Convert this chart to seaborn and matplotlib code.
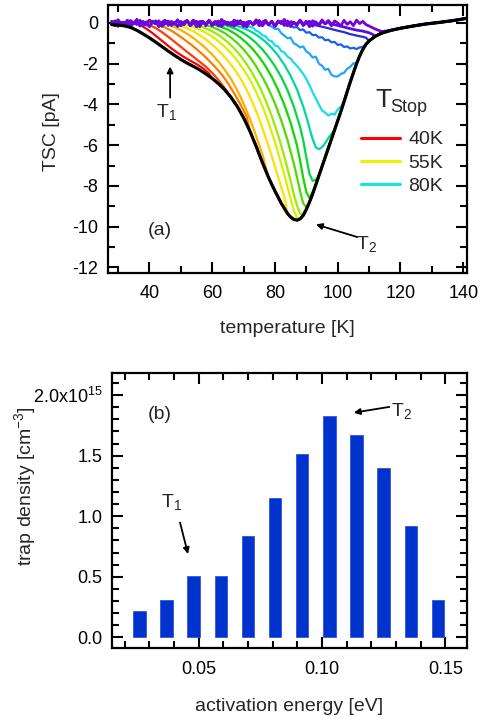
import numpy as np
import matplotlib
matplotlib.use("Agg")
import matplotlib.pyplot as plt
from matplotlib.ticker import MultipleLocator, FixedLocator, FixedFormatter
from matplotlib.lines import Line2D
import seaborn as sns

sns.set_theme(style="ticks")
plt.rcParams["font.family"] = ["Liberation Sans", "DejaVu Sans"]
plt.rcParams["mathtext.fontset"] = "custom"
plt.rcParams["mathtext.rm"] = "Liberation Sans"
plt.rcParams["mathtext.it"] = "Liberation Sans:italic"
plt.rcParams["mathtext.bf"] = "Liberation Sans:bold"
plt.rcParams["axes.unicode_minus"] = False

# ---------------- (a) thermally stimulated current ----------------
# full TSC run (black envelope)
FULL_T = [28, 30, 32, 34, 36, 38, 40, 42, 44, 46, 48, 50, 52, 54, 56, 58, 60, 62, 64, 66,
          68, 70, 72, 74, 76, 78, 80, 82, 84, 85, 86, 87, 88, 89, 90, 91, 92, 93, 94, 95,
          96, 97, 98, 99, 100, 101, 102, 103, 104, 105, 106, 107, 108, 109, 110, 112, 114,
          117, 120, 124, 128, 132, 136, 139, 141]
FULL_I = [-0.08, -0.1, -0.14, -0.22, -0.36, -0.54, -0.73, -0.94, -1.16, -1.38, -1.59, -1.79,
          -1.97, -2.13, -2.3, -2.5, -2.72, -2.98, -3.28, -3.65, -4.1, -4.65, -5.3, -6.05,
          -6.85, -7.6, -8.25, -8.85, -9.35, -9.53, -9.64, -9.68, -9.62, -9.45, -9.15, -8.8,
          -8.4, -7.95, -7.5, -7.05, -6.6, -6.15, -5.7, -5.25, -4.8, -4.35, -3.87, -3.38,
          -2.9, -2.45, -2.0, -1.62, -1.3, -1.05, -0.88, -0.65, -0.5, -0.36, -0.26, -0.15,
          -0.05, 0.02, 0.1, 0.17, 0.23]

# baseline current before each partial run starts to discharge (1 K steps from 28 K)
BASE_T = list(range(28, 113))
BASE_A = [0.08, -0.13, 0.15, -0.06, 0.04, -0.18, 0.11, -0.03, 0.17, -0.15, 0.07, -0.1, 0.14,
          -0.01, 0.1, -0.17, 0.03, 0.13, -0.11, 0.07, -0.06, 0.15, -0.14, 0.04, 0.11, -0.08,
          0.14, -0.18, 0.06, 0.08, -0.13, 0.13, -0.04, 0.07, -0.15, 0.17, -0.03, 0.04, -0.11,
          0.14, -0.07, 0.11, -0.17, 0.03, 0.08, -0.06, 0.15, -0.13, 0.04, 0.13, -0.1, 0.07,
          -0.15, 0.1, -0.03, 0.17, -0.14, 0.06, 0.01, -0.11, 0.14, -0.06, 0.08, -0.18, 0.11,
          0.03, -0.1, 0.15, -0.04, 0.07, -0.14, 0.1, 0.0, -0.15, 0.13, -0.07, 0.06, -0.13,
          0.14, -0.03, 0.08, -0.17, 0.04, 0.11, -0.08]
BASE_B = [-0.05, 0.1, -0.16, 0.04, -0.09, 0.13, -0.2, 0.03, -0.07, 0.12, -0.13, 0.05, -0.18,
          0.08, -0.04, 0.1, -0.16, -0.01, 0.09, -0.12, 0.04, -0.17, 0.07, -0.08, 0.13, -0.14,
          0.01, 0.08, -0.18, 0.05, -0.03, 0.12, -0.13, 0.0, 0.09, -0.17, 0.07, -0.1, 0.03,
          -0.16, 0.1, -0.05, 0.04, -0.2, 0.08, -0.09, 0.01, 0.12, -0.14, 0.05, -0.08, 0.09,
          -0.17, 0.03, 0.07, -0.12, 0.1, -0.18, 0.04, -0.07, 0.13, -0.13, 0.0, 0.08, -0.16,
          0.05, -0.1, 0.09, -0.04, 0.12, -0.18, 0.03, -0.08, 0.1, -0.14, 0.07, -0.03, 0.09,
          -0.17, 0.01, 0.08, -0.12, 0.05, -0.16, 0.04]

# partial runs: own discharge segment, after which each run follows the full curve
RUN01_T = [37, 39, 41, 43, 45, 47, 49, 51, 53, 55, 57, 59]
RUN01_I = [-0.1, -0.28, -0.5, -0.75, -1.0, -1.25, -1.47, -1.67, -1.85, -2.02, -2.22, -2.48]
RUN02_T = [40, 42, 44, 46, 48, 50, 52, 54, 56, 58, 60, 62, 64]
RUN02_I = [-0.1, -0.25, -0.45, -0.68, -0.92, -1.17, -1.42, -1.66, -1.9, -2.15, -2.45, -2.8, -3.2]
RUN03_T = [43, 45, 47, 49, 51, 53, 55, 57, 59, 61, 63, 65, 67, 69, 71]
RUN03_I = [-0.1, -0.22, -0.38, -0.58, -0.8, -1.03, -1.28, -1.55, -1.85, -2.17, -2.52, -2.95,
           -3.45, -4.0, -4.6]
RUN04_T = [46, 48, 50, 52, 54, 56, 58, 60, 62, 64, 66, 68, 70, 72, 74, 76]
RUN04_I = [-0.1, -0.2, -0.35, -0.53, -0.74, -0.98, -1.25, -1.55, -1.9, -2.3, -2.75, -3.3,
           -3.95, -4.7, -5.55, -6.45]
RUN05_T = [49, 51, 53, 55, 57, 59, 61, 63, 65, 67, 69, 71, 73, 75, 77, 79, 81, 83]
RUN05_I = [-0.1, -0.2, -0.33, -0.5, -0.7, -0.93, -1.2, -1.5, -1.85, -2.25, -2.72, -3.28,
           -3.95, -4.72, -5.6, -6.55, -7.55, -8.55]
RUN06_T = [52, 54, 56, 58, 60, 62, 64, 66, 68, 70, 72, 74, 76, 78, 80, 82, 84, 85, 86, 87]
RUN06_I = [-0.1, -0.2, -0.32, -0.48, -0.67, -0.9, -1.17, -1.48, -1.85, -2.28, -2.78, -3.38,
           -4.08, -4.9, -5.85, -6.9, -8.05, -8.65, -9.2, -9.55]
RUN07_T = [55, 57, 59, 61, 63, 65, 67, 69, 71, 73, 75, 77, 79, 81, 83, 85, 86, 87, 88, 89]
RUN07_I = [-0.1, -0.2, -0.33, -0.5, -0.7, -0.95, -1.25, -1.6, -2.02, -2.52, -3.1, -3.78,
           -4.58, -5.5, -6.55, -7.75, -8.4, -8.95, -9.35, -9.4]
RUN08_T = [58, 60, 62, 64, 66, 68, 70, 72, 74, 76, 78, 80, 82, 84, 86, 87, 88, 89, 90]
RUN08_I = [-0.1, -0.2, -0.33, -0.5, -0.72, -0.98, -1.3, -1.68, -2.12, -2.65, -3.25, -3.95,
           -4.78, -5.75, -6.9, -7.55, -8.25, -8.85, -9.05]
RUN09_T = [61, 63, 65, 67, 69, 71, 73, 75, 77, 79, 81, 83, 85, 87, 88, 89, 90, 91, 92]
RUN09_I = [-0.1, -0.2, -0.33, -0.5, -0.72, -0.98, -1.3, -1.68, -2.12, -2.65, -3.28, -4.02,
           -4.9, -6.0, -6.75, -7.6, -8.3, -8.6, -8.3]
RUN10_T = [64, 66, 68, 70, 72, 74, 76, 78, 80, 82, 84, 86, 88, 89, 90, 91, 92, 93]
RUN10_I = [-0.1, -0.2, -0.33, -0.5, -0.72, -0.98, -1.3, -1.68, -2.12, -2.65, -3.3, -4.1,
           -5.1, -5.75, -6.6, -7.4, -7.75, -7.7]
RUN11_T = [67, 69, 71, 73, 75, 77, 79, 81, 83, 85, 87, 89, 90, 91, 92, 93, 94, 95, 96, 97, 98]
RUN11_I = [-0.1, -0.2, -0.32, -0.48, -0.68, -0.93, -1.23, -1.6, -2.05, -2.6, -3.25, -4.1,
           -4.6, -5.15, -5.7, -6.1, -6.2, -6.1, -5.9, -5.65, -5.45]
RUN12_T = [71, 72, 73, 74, 75, 76, 77, 78, 79, 80, 81, 82, 83, 84, 85, 86, 87, 88, 89, 90,
           91, 92, 93, 94, 95, 96, 97, 98, 99, 100, 101]
RUN12_I = [-0.1, -0.2, -0.22, -0.38, -0.45, -0.6, -0.65, -0.85, -0.9, -1.1, -1.15, -1.38,
           -1.45, -1.65, -1.75, -1.95, -2.1, -2.3, -2.5, -2.75, -3.05, -3.4, -3.7, -4.0,
           -4.3, -4.4, -4.55, -4.45, -4.5, -4.25, -4.1]
RUN13_T = [78, 79, 80, 81, 82, 83, 84, 85, 86, 87, 88, 89, 90, 91, 92, 93, 94, 95, 96, 97,
           98, 99, 100, 101, 102, 103, 104, 105]
RUN13_I = [-0.1, -0.18, -0.3, -0.28, -0.5, -0.62, -0.75, -0.72, -1.0, -1.08, -1.2, -1.15,
           -1.4, -1.5, -1.7, -1.65, -2.0, -2.1, -2.3, -2.25, -2.55, -2.62, -2.63, -2.5,
           -2.45, -2.25, -2.15, -1.98]
RUN14_T = [84, 85, 86, 87, 88, 89, 90, 91, 92, 93, 94, 95, 96, 97, 98, 99, 100, 101, 102,
           103, 104, 105, 106, 107, 108]
RUN14_I = [-0.1, -0.12, -0.22, -0.2, -0.35, -0.32, -0.48, -0.45, -0.6, -0.58, -0.72, -0.7,
           -0.85, -0.82, -0.95, -0.93, -1.08, -1.05, -1.18, -1.15, -1.25, -1.22, -1.28,
           -1.2, -1.18]
RUN15_T = [92, 94, 96, 98, 100, 102, 104, 106, 108, 109]
RUN15_I = [-0.08, -0.15, -0.22, -0.3, -0.38, -0.45, -0.55, -0.62, -0.68, -0.72]
RUN16_T = [98, 100, 102, 104, 106, 108, 110, 111]
RUN16_I = [-0.05, -0.12, -0.2, -0.28, -0.35, -0.4, -0.48, -0.55]
RUN17_T = [109, 110, 112, 114]
RUN17_I = [-0.08, -0.15, -0.3, -0.42]

RUN_COLORS = ["#ff0000", "#ff3c00", "#ff7a00", "#ffae00", "#ffe000", "#d8f000", "#98ec00",
              "#50dc00", "#10d800", "#00d848", "#00d8a0", "#18dcec", "#22a4ff", "#1662ee",
              "#2430d4", "#5810dc", "#7a00dc"]
RUN_WIDTHS = [1.6] * 15 + [2.0, 2.0]

RUNS = [(RUN01_T, RUN01_I), (RUN02_T, RUN02_I), (RUN03_T, RUN03_I), (RUN04_T, RUN04_I),
        (RUN05_T, RUN05_I), (RUN06_T, RUN06_I), (RUN07_T, RUN07_I), (RUN08_T, RUN08_I),
        (RUN09_T, RUN09_I), (RUN10_T, RUN10_I), (RUN11_T, RUN11_I), (RUN12_T, RUN12_I),
        (RUN13_T, RUN13_I), (RUN14_T, RUN14_I), (RUN15_T, RUN15_I), (RUN16_T, RUN16_I),
        (RUN17_T, RUN17_I)]

LEGEND_LABELS = ["40K", "55K", "80K"]
LEGEND_COLORS = ["#ff0000", "#eef000", "#10e8e0"]

# ---------------- (b) trap density distribution ----------------
ENERGY = [0.026, 0.037, 0.048, 0.059, 0.070, 0.081, 0.092, 0.103, 0.114, 0.125, 0.136, 0.147]
DENSITY = [0.22, 0.31, 0.505, 0.505, 0.835, 1.15, 1.51, 1.83, 1.67, 1.40, 0.92, 0.31]  # x1e15 cm^-3
DENS_TICKS = [0.0, 0.5, 1.0, 1.5, 2.0]
DENS_TICKLABELS = ["0.0", "0.5", "1.0", "1.5", "2.0x10$^{15}$"]


def assemble(seg_t, seg_i, base):
    """Baseline before the run starts, own segment, then the full curve."""
    bt = np.asarray(BASE_T, float)
    bi = np.asarray(base, float)
    ft = np.asarray(FULL_T, float)
    fi = np.asarray(FULL_I, float)
    pre = bt < seg_t[0]
    post = ft > seg_t[-1]
    t = np.concatenate([bt[pre], seg_t, ft[post]])
    i = np.concatenate([bi[pre], seg_i, fi[post]])
    return t, i


fig = plt.figure(figsize=(4.8, 7.19), dpi=100)
ax1 = fig.add_axes([0.2256, 0.621, 0.7467, 0.372])
ax2 = fig.add_axes([0.2333, 0.0987, 0.7396, 0.3825])

for k, ((st, si), col, lw) in enumerate(zip(RUNS, RUN_COLORS, RUN_WIDTHS)):
    t, i = assemble(np.asarray(st, float), np.asarray(si, float),
                    BASE_A if k % 2 == 0 else BASE_B)
    sns.lineplot(x=t, y=i, color=col, lw=lw, sort=False, estimator=None, ax=ax1)

sns.lineplot(x=np.asarray(FULL_T, float), y=np.asarray(FULL_I, float), color="black",
             lw=2.3, sort=False, estimator=None, ax=ax1)

ax1.set_xlim(26.9, 141.1)
ax1.set_ylim(-12.25, 0.88)
ax1.xaxis.set_major_locator(MultipleLocator(20))
ax1.xaxis.set_minor_locator(MultipleLocator(10))
ax1.yaxis.set_major_locator(MultipleLocator(2))
ax1.yaxis.set_minor_locator(MultipleLocator(1))
ax1.set_xlabel("temperature [K]", fontsize=14)
ax1.set_ylabel("TSC [pA]", fontsize=14)
ax1.xaxis.set_label_coords(0.5, -0.178)
ax1.yaxis.set_label_coords(-0.135, 0.526)

handles = [Line2D([], [], color=c, lw=2.2) for c in LEGEND_COLORS]
ax1.legend(handles, LEGEND_LABELS, loc="upper left", bbox_to_anchor=(0.705, 0.53),
           frameon=False, fontsize=14, handlelength=2.0, handletextpad=0.45,
           labelspacing=0.3, borderpad=0, borderaxespad=0)
ax1.text(0.745, 0.645, "T", transform=ax1.transAxes, fontsize=19, ha="left", va="center")
ax1.text(0.787, 0.618, "Stop", transform=ax1.transAxes, fontsize=13, ha="left", va="center")

ax1.annotate("", xy=(46.6, -2.0), xytext=(46.6, -3.8),
             arrowprops=dict(arrowstyle="-|>", color="black", lw=1.3, mutation_scale=9))
ax1.text(45.4, -4.35, "T$_1$", fontsize=14, ha="center", va="center")
ax1.annotate("", xy=(92.2, -9.85), xytext=(107.1, -10.55),
             arrowprops=dict(arrowstyle="-|>", color="black", lw=1.3, mutation_scale=9))
ax1.text(109.3, -10.85, "T$_2$", fontsize=14, ha="center", va="center")
ax1.text(43.4, -10.2, "(a)", fontsize=14, ha="center", va="center")

# bars
sns.barplot(x=ENERGY, y=DENSITY, native_scale=True, width=0.46, color="#0033cc",
            saturation=1, errorbar=None, ax=ax2, edgecolor="#3355dd", linewidth=0.6)
ax2.set_xlim(0.0149, 0.1588)
ax2.set_ylim(-0.088, 2.182)
ax2.xaxis.set_major_locator(MultipleLocator(0.05))
ax2.xaxis.set_minor_locator(MultipleLocator(0.01))
ax2.xaxis.set_major_formatter(matplotlib.ticker.FormatStrFormatter("%.2f"))
ax2.yaxis.set_major_locator(FixedLocator(DENS_TICKS))
ax2.yaxis.set_major_formatter(FixedFormatter(DENS_TICKLABELS))
ax2.yaxis.set_minor_locator(MultipleLocator(0.1))
ax2.set_xlabel("activation energy [eV]", fontsize=14)
ax2.set_ylabel("trap density [cm$^{-3}$]", fontsize=14)
ax2.xaxis.set_label_coords(0.5, -0.182)
ax2.yaxis.set_label_coords(-0.2076, 0.589)

ax2.annotate("", xy=(0.046, 0.666), xytext=(0.0422, 0.97),
             arrowprops=dict(arrowstyle="-|>", color="black", lw=1.3, mutation_scale=9))
ax2.text(0.0389, 1.114, "T$_1$", fontsize=14, ha="center", va="center")
ax2.annotate("", xy=(0.1118, 1.851), xytext=(0.1284, 1.906),
             arrowprops=dict(arrowstyle="-|>", color="black", lw=1.3, mutation_scale=9))
ax2.text(0.1322, 1.87, "T$_2$", fontsize=14, ha="center", va="center")
ax2.text(0.0341, 1.837, "(b)", fontsize=14, ha="center", va="center")

for ax in (ax1, ax2):
    for sp in ax.spines.values():
        sp.set_linewidth(1.6)
        sp.set_color("black")
        sp.set_visible(True)
    ax.tick_params(which="both", direction="in", top=True, right=True, width=1.5,
                   colors="black", labelsize=13)
    ax.tick_params(which="major", length=8, pad=9)
    ax.tick_params(which="minor", length=5)
    ax.tick_params(axis="y", which="major", pad=7)
    ax.set_facecolor("white")

fig.savefig("out.png", dpi=100, facecolor="white")
